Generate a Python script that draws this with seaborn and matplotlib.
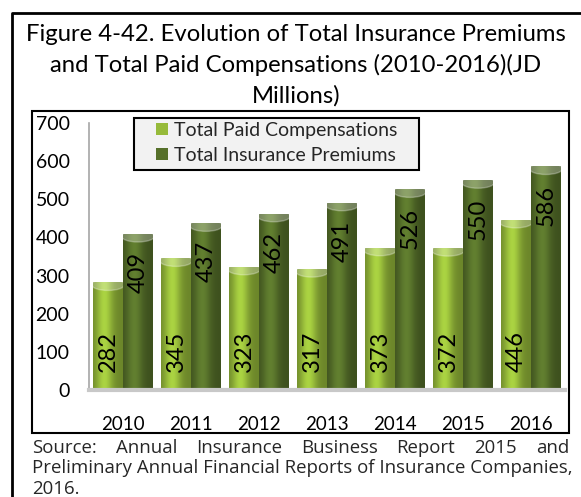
import numpy as np
import pandas as pd
import seaborn as sns
import matplotlib.pyplot as plt
from matplotlib.colors import to_rgb
from matplotlib.patches import Rectangle, Ellipse
from matplotlib.lines import Line2D

# chart data
years = ['2010', '2011', '2012', '2013', '2014', '2015', '2016']
paid_compensations = [282, 345, 323, 317, 373, 372, 446]
insurance_premiums = [409, 437, 462, 491, 526, 550, 586]
series_names = ['Total Paid Compensations', 'Total Insurance Premiums']
y_ticks = [0, 100, 200, 300, 400, 500, 600, 700]

title_lines = ['Figure 4-42. Evolution of Total Insurance Premiums',
               'and Total Paid Compensations (2010-2016)(JD',
               'Millions)']
source_line1 = 'Source: Annual Insurance Business Report 2015 and'
source_line2 = 'Preliminary Annual Financial Reports of Insurance Companies,'
source_line3 = '2016.'

df = pd.DataFrame({
    'year': years * 2,
    'value': paid_compensations + insurance_premiums,
    'series': [series_names[0]] * len(years) + [series_names[1]] * len(years),
})

sns.set_theme(style='white')
plt.rcParams['font.family'] = ['Lato', 'DejaVu Sans']

W, H = 581, 497
fig = plt.figure(figsize=(W / 100, H / 100), dpi=100)
ax = fig.add_axes([89 / W, 107 / H, 476 / W, 267 / H])

colors = {series_names[0]: '#96ba3a', series_names[1]: '#56702a'}
sns.barplot(data=df, x='year', y='value', hue='series', palette=colors,
            width=0.88, gap=0, saturation=1, edgecolor='none', ax=ax)


def cylinder(color, n=64):
    base = np.array(to_rgb(color))
    t = np.linspace(0, 1, n)
    f = 0.72 + 0.42 * np.exp(-((t - 0.38) / 0.28) ** 2)
    return np.clip(base[None, :] * f[:, None], 0, 1)[None, :, :]


# cylinder shading + light cap on each bar
cap_h = 30
for cont, name in zip(ax.containers, series_names):
    grad = cylinder(colors[name])
    for p in cont:
        x0, w, h = p.get_x(), p.get_width(), p.get_height()
        im = ax.imshow(grad, extent=(x0, x0 + w, 0, h), aspect='auto',
                       interpolation='bilinear', zorder=2)
        im.set_clip_path(p)
        cap = Ellipse((x0 + w / 2, h - cap_h * 0.2), w * 1.1, cap_h,
                      color='white', alpha=0.28, zorder=2.2)
        ax.add_patch(cap)
        cap.set_clip_path(p)

# data labels
for cont in ax.containers[:1]:
    for p in cont:
        ax.annotate(f'{p.get_height():.0f}', (p.get_x() + p.get_width() / 2, 0),
                    xytext=(0, 13), textcoords='offset points', rotation=90,
                    ha='center', va='bottom', fontsize=17, color='black', zorder=4)
for cont in ax.containers[1:]:
    for p in cont:
        ax.annotate(f'{p.get_height():.0f}', (p.get_x() + p.get_width() / 2, p.get_height()),
                    xytext=(0, -13), textcoords='offset points', rotation=90,
                    ha='center', va='top', fontsize=17, color='black', zorder=4)

ax.set_xlim(-0.5, 6.5)
ax.set_ylim(0, 700)
ax.set_yticks(y_ticks)
ax.set_xlabel('')
ax.set_ylabel('')
ax.tick_params(axis='y', length=0, pad=14, labelsize=14, labelcolor='black')
ax.tick_params(axis='x', length=0, pad=19, labelsize=13.5, labelcolor='black')
for s in ['top', 'right']:
    ax.spines[s].set_visible(False)
ax.spines['left'].set_color('#a6a6a6')
ax.spines['left'].set_linewidth(1.2)
ax.spines['bottom'].set_color('#c8c8c8')
ax.spines['bottom'].set_linewidth(3)
ax.patch.set_alpha(0)

# legend
handles, labels = ax.get_legend_handles_labels()
ax.legend(handles, labels, loc='upper left', bbox_to_anchor=(156 / W, 1 - 122 / H),
          bbox_transform=fig.transFigure, frameon=False, fontsize=14,
          handlelength=0.6, handleheight=0.6, handletextpad=0.35,
          labelspacing=0.42, borderaxespad=0, borderpad=0)
fig.add_artist(Rectangle((134 / W, 1 - 170 / H), 285 / W, 52 / H,
                         transform=fig.transFigure, facecolor='#f2f2f2',
                         edgecolor='black', lw=1.5, zorder=-1))

# chart box and outer box
fig.add_artist(Rectangle((32 / W, 1 - 433 / H), 537 / W, 322 / H,
                         transform=fig.transFigure, fill=False,
                         edgecolor='black', lw=1.5))
fig.add_artist(Line2D([12 / W, 12 / W, 1.0], [0, 1 - 13 / H, 1 - 13 / H],
                      transform=fig.transFigure, color='black', lw=2))

renderer = fig.canvas.get_renderer()

# title, sized so the first line spans the box
title_texts = [fig.text(296 / W, 1 - (41 + 31 * i) / H, line, ha='center',
                        va='baseline', fontsize=17, color='black')
               for i, line in enumerate(title_lines)]
tw = title_texts[0].get_window_extent(renderer).width
for t in title_texts:
    t.set_fontsize(17 * 540 / tw)

# source note in Open Sans, second line sized to the box width
src_font = ['Open Sans', 'DejaVu Sans']
s2 = fig.text(32 / W, 1 - 473 / H, source_line2, ha='left', va='baseline',
              fontsize=12, family=src_font)
fs = 12 * 536 / s2.get_window_extent(renderer).width
s2.set_fontsize(fs)
fig.text(32 / W, 1 - 494 / H, source_line3, ha='left', va='baseline',
         fontsize=fs, family=src_font)
words = source_line1.split()
texts = [fig.text(0, 1 - 453 / H, wd, ha='left', va='baseline', fontsize=fs,
                  family=src_font) for wd in words]
widths = [t.get_window_extent(renderer).width for t in texts]
gap = (537 - sum(widths)) / (len(words) - 1)
x = 32
for t, wdt in zip(texts, widths):
    t.set_x(x / W)
    x += wdt + gap

fig.savefig('out.png', dpi=100)
